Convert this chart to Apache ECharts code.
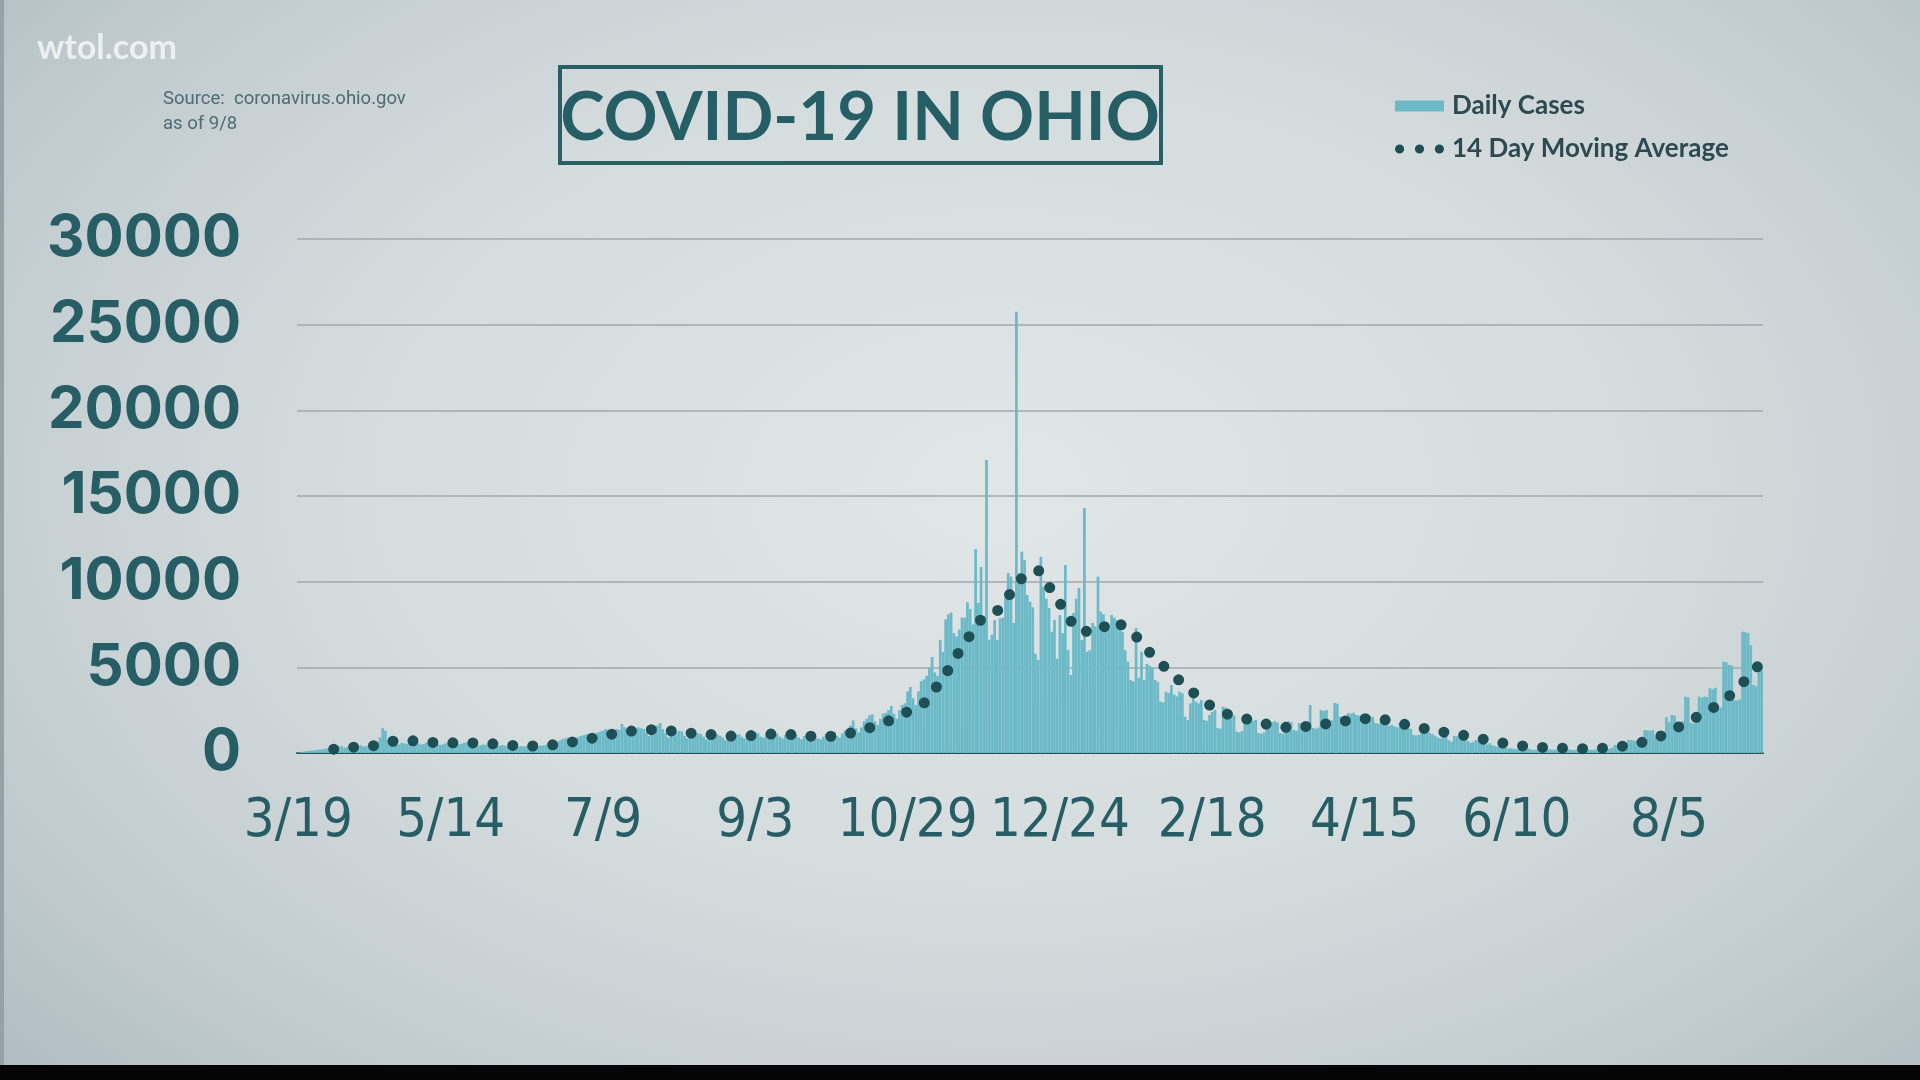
<!DOCTYPE html>
<html>
<head>
    <meta charset="UTF-8">
    <title>COVID-19 IN OHIO</title>
    <style type="text/css">
        html, body {
            margin: 0;
            padding: 0;
        }
        body {
            width: 1920px;
            height: 1080px;
            overflow: hidden;
            position: relative;
            background: radial-gradient(ellipse 75% 85% at 52% 45%, #e1e6e7 0%, #d5dcde 45%, #c0cace 78%, #a9b7bc 100%);
        }
        #chart {
            width: 1920px;
            height: 1080px;
        }
        #left-edge {
            position: absolute;
            left: 0;
            top: 0;
            width: 4px;
            height: 1080px;
            background-color: #94a3a8;
        }
        #bottom-strip {
            position: absolute;
            left: 0;
            bottom: 0;
            width: 1920px;
            height: 15px;
            background-color: #050505;
        }
    </style>
    <script type="text/javascript" src="https://cdn.jsdelivr.net/npm/echarts@6.0.0/dist/echarts.min.js"></script>
</head>
<body>
<div id="chart"></div>
<div id="left-edge"></div>
<div id="bottom-strip"></div>
<script>
    // daily new cases, one value per day starting 3/19/2020 (one row = one week)
    const startDate = Date.UTC(2020, 2, 19);
    const dailyCases = [
        30, 55, 85, 105, 120, 140, 160,
        180, 200, 220, 250, 265, 330, 350,
        380, 390, 400, 310, 340, 370, 410,
        420, 400, 450, 380, 400, 480, 520,
        600, 640, 900, 1450, 1300, 700, 650,
        700, 550, 500, 600, 560, 520, 650,
        620, 650, 560, 500, 520, 600, 580,
        620, 640, 550, 480, 500, 560, 600,
        650, 620, 500, 510, 540, 600, 620,
        600, 560, 480, 420, 460, 500, 480,
        450, 500, 430, 380, 420, 460, 420,
        400, 420, 380, 340, 370, 400, 390,
        420, 450, 380, 350, 400, 420, 450,
        480, 560, 520, 450, 600, 720, 800,
        850, 900, 750, 700, 850, 950, 1000,
        1050, 1100, 900, 800, 1000, 1200, 1250,
        1300, 1400, 1200, 1000, 1250, 1400, 1350,
        1700, 1500, 1250, 1050, 1300, 1450, 1500,
        1450, 1400, 1200, 1000, 1350, 1500, 1600,
        1750, 1400, 1150, 900, 1100, 1250, 1200,
        1300, 1250, 1000, 850, 1050, 1150, 1100,
        1150, 1100, 950, 800, 1000, 1100, 1050,
        1100, 1000, 900, 750, 950, 1050, 1000,
        1050, 1100, 950, 850, 1100, 1200, 1250,
        1200, 1150, 950, 900, 1100, 1200, 1150,
        1150, 1100, 950, 850, 1050, 1150, 1100,
        1100, 1050, 900, 800, 1000, 1100, 1050,
        1050, 1000, 850, 800, 950, 1100, 1100,
        1150, 1200, 1000, 900, 1150, 1300, 1400,
        1600, 1900, 1450, 1200, 1500, 1850, 2000,
        2200, 2250, 1850, 1650, 2000, 2300, 2350,
        2500, 2750, 2300, 2000, 2500, 2800, 2900,
        3600, 3850, 3200, 2800, 3600, 4200, 4300,
        4500, 5000, 5600, 4700, 4500, 6600, 5900,
        7800, 8100, 8200, 7000, 6800, 7200, 7900,
        7900, 8800, 8400, 7500, 11900, 8750, 10850,
        8000, 17100, 6600, 6900, 7760, 6600, 7860,
        7900, 9050, 10500, 10300, 7590, 25760, 10500,
        11750, 11260, 9220, 8830, 8500, 5800, 5430,
        11460, 9710, 9000, 8460, 7080, 7760, 5500,
        8050, 7000, 10970, 6010, 4550, 8170, 9000,
        9630, 6600, 14300, 5910, 6000, 7590, 7400,
        10290, 8250, 8100, 7300, 7200, 8050, 7900,
        7760, 7700, 7080, 6000, 5330, 4260, 4180,
        7300, 4380, 5910, 4260, 5200, 5100, 5000,
        4260, 4150, 3000, 2950, 3580, 3500, 3970,
        3400, 3300, 3580, 3480, 2120, 1930, 2900,
        3270, 3000, 2900, 3100, 1930, 1880, 2220,
        2400, 2510, 1460, 1420, 2700, 2650, 2330,
        2330, 2200, 1240, 1200, 1280, 1930, 1900,
        1960, 1880, 1930, 1170, 1120, 1200, 1830,
        1860, 1800, 1850, 1780, 1170, 1140, 1830,
        1850, 1800, 1340, 1300, 1750, 1720, 1780,
        1750, 2800, 1460, 1420, 1480, 2510, 2460,
        2500, 1930, 1900, 2920, 2880, 2120, 2080,
        2150, 2330, 2300, 2350, 2220, 2180, 2240,
        2120, 2080, 2150, 2100, 1750, 1720, 1780,
        1750, 1700, 1600, 1650, 1550, 1500, 1750,
        1750, 1700, 1460, 1400, 1050, 1020, 1060,
        1460, 1440, 1400, 1170, 1100, 1000, 900,
        850, 1100, 1000, 750, 660, 1000, 980,
        950, 900, 760, 700, 600, 650, 760,
        700, 600, 580, 500, 560, 450, 400,
        380, 350, 300, 290, 280, 260, 240,
        230, 280, 220, 200, 260, 220, 180,
        200, 250, 230, 180, 160, 210, 200,
        190, 220, 200, 150, 170, 210, 180,
        170, 200, 190, 150, 160, 200, 190,
        180, 210, 200, 160, 170, 220, 240,
        300, 470, 450, 400, 480, 500, 760,
        760, 740, 700, 620, 700, 1340, 1320,
        1300, 1340, 950, 930, 960, 900, 2100,
        1810, 2220, 2180, 1830, 1800, 1860, 3290,
        3250, 1750, 1720, 1780, 3290, 3240, 3300,
        3260, 3780, 3720, 3800, 2700, 2660, 5330,
        5300, 5140, 5100, 3090, 3050, 3120, 7080,
        7050, 7000, 6300, 3970, 3900, 4840, 4800
    ];

    // 14 day moving average read weekly, first value on day 13
    const maFirstDay = 13;
    const maStep = 7;
    const maValues = [
        220, 340, 400, 680, 730, 620, 590, 600, 570, 470,
        400, 420, 530, 750, 950, 1200, 1330, 1380, 1250, 1130,
        1060, 980, 1020, 1110, 1080, 980, 960, 1120, 1420, 1800,
        2330, 2900, 4350, 6200, 7800, 8400, 10100, 10680, 9000, 7200,
        7020, 7750, 7000, 5680, 4650, 3650, 2800, 2230, 1970, 1680,
        1500, 1540, 1680, 1850, 2000, 2000, 1730, 1500, 1270, 1100,
        900, 650, 470, 335, 310, 260, 250, 300, 440, 700,
        1120, 1740, 2350, 3000, 4080, 5300
    ];

    const yTicks = [0, 5000, 10000, 15000, 20000, 25000, 30000];
    const labelEvery = 56;

    const dayLabels = dailyCases.map(function (v, i) {
        let d = new Date(startDate + i * 86400000);
        return (d.getUTCMonth() + 1) + '/' + d.getUTCDate();
    });
    const maData = maValues.map(function (v, k) {
        return [maFirstDay + k * maStep, v];
    });

    const darkTeal = '#275d64';
    const dotColor = '#1e4f55';
    // three dots for the moving average legend entry
    const threeDots = 'path://M0.5,5.5a4.5,4.5 0 1,0 9,0a4.5,4.5 0 1,0 -9,0z' +
        'M20,5.5a4.5,4.5 0 1,0 9,0a4.5,4.5 0 1,0 -9,0z' +
        'M39.5,5.5a4.5,4.5 0 1,0 9,0a4.5,4.5 0 1,0 -9,0z';

    let myChart = echarts.init(document.getElementById('chart'));

    myChart.setOption({
        animation: false,
        grid: {
            left: 297,
            right: 157,
            top: 239,
            bottom: 327
        },
        legend: {
            orient: 'vertical',
            left: 1390,
            top: 88,
            itemWidth: 49,
            itemHeight: 11,
            itemGap: 17,
            textStyle: {
                fontFamily: 'Lato',
                fontWeight: 700,
                fontSize: 26,
                color: '#2d4a50',
                padding: [0, 0, 0, 3]
            },
            data: [
                {name: 'Daily Cases', icon: 'rect'},
                {name: '14 Day Moving Average', icon: threeDots, itemStyle: {color: dotColor}}
            ]
        },
        xAxis: {
            type: 'category',
            data: dayLabels,
            boundaryGap: true,
            axisLine: {
                lineStyle: {color: '#2b4f56', width: 2}
            },
            axisTick: {
                interval: labelEvery - 1,
                length: 16,
                lineStyle: {color: '#2b4f56', width: 2}
            },
            axisLabel: {
                interval: labelEvery - 1,
                margin: 42,
                fontSize: 54,
                fontFamily: "'DejaVu Sans Condensed', Roboto",
                color: darkTeal
            }
        },
        yAxis: {
            type: 'value',
            min: yTicks[0],
            max: yTicks[yTicks.length - 1],
            interval: yTicks[1] - yTicks[0],
            axisLine: {show: false},
            axisTick: {show: false},
            splitLine: {
                lineStyle: {color: '#a2a9ab', width: 1.5}
            },
            axisLabel: {
                margin: 56,
                fontSize: 58,
                fontWeight: 700,
                fontFamily: 'Inter',
                color: darkTeal,
                formatter: function (v) {
                    return String(v);
                }
            }
        },
        series: [
            {
                name: 'Daily Cases',
                type: 'bar',
                data: dailyCases,
                barCategoryGap: '0%',
                itemStyle: {color: '#6cbac7'}
            },
            {
                name: '14 Day Moving Average',
                type: 'line',
                data: maData,
                symbol: 'none',
                color: dotColor,
                z: 5,
                lineStyle: {
                    color: dotColor,
                    width: 11,
                    type: [0, 20],
                    cap: 'round'
                }
            }
        ],
        graphic: [
            {
                type: 'text',
                left: 37,
                top: 31,
                style: {
                    text: 'wtol.com',
                    font: '700 34px Lato',
                    fill: 'rgba(255,255,255,0.72)'
                }
            },
            {
                type: 'text',
                left: 163,
                top: 90,
                style: {
                    text: 'Source:  coronavirus.ohio.gov',
                    font: '18.5px Roboto',
                    fill: '#4f6b73'
                }
            },
            {
                type: 'text',
                left: 163,
                top: 115,
                style: {
                    text: 'as of 9/8',
                    font: '18.5px Roboto',
                    fill: '#4f6b73'
                }
            },
            {
                type: 'rect',
                shape: {x: 560, y: 67, width: 601, height: 96},
                style: {fill: 'none', stroke: '#2b5f66', lineWidth: 4}
            },
            {
                type: 'text',
                x: 860,
                y: 118,
                style: {
                    text: 'COVID-19 IN OHIO',
                    font: '700 67px Lato',
                    fill: '#265e66',
                    align: 'center',
                    verticalAlign: 'middle'
                }
            }
        ]
    });
</script>
</body>
</html>
